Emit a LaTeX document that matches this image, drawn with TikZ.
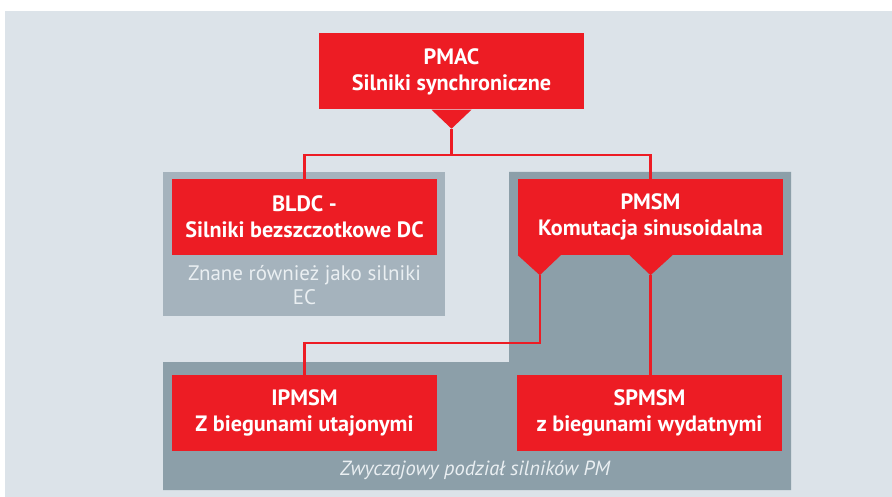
\documentclass[tikz,border=0pt]{standalone}
\usepackage{fontspec}
\setmainfont{PT Sans}
\usetikzlibrary{positioning, calc}
\definecolor{mybg}{RGB}{220,227,233}
\definecolor{myred}{RGB}{237,28,36}
\definecolor{mygrey}{RGB}{165,179,189}
\definecolor{mydark}{RGB}{140,159,169}
\definecolor{mytext}{RGB}{234,239,242}

\begin{document}
\begin{tikzpicture}[x=1pt,y=-1pt,
    redbox/.style={fill=myred, text=white, align=center, inner sep=0pt,
        minimum width=265pt, minimum height=76pt,
        font=\bfseries\fontsize{22.2}{26}\selectfont},
    link/.style={draw=myred, line width=2.2pt}]
    % Background
    \fill[white] (0,0) rectangle (892,497);
    \fill[mybg] (5,11) rectangle (892,497);
    \useasboundingbox (0,0) rectangle (892,497);

    % Grey areas behind the boxes
    \fill[mygrey] (163,172) rectangle (445,316);
    \fill[mydark] (509,172) -- (791,172) -- (791,490) -- (163,490) -- (163,362) -- (509,362) -- cycle;

    % The boxes
    \node[redbox] (pmac) at (451.5,71.5) {PMAC\\Silniki synchroniczne};
    \node[redbox] (bldc) at (304.5,217) {BLDC -\\Silniki bezszczotkowe DC};
    \node[redbox] (pmsm) at (650.5,217) {PMSM\\Komutacja sinusoidalna};
    \node[redbox] (ipmsm) at (304.5,413) {IPMSM\\Z biegunami utajonymi};
    \node[redbox] (spmsm) at (649.5,413) {SPMSM\\z biegunami wydatnymi};

    % Small pointers under the boxes
    \fill[myred] ($(pmac.south)+(-20,0)$) -- ++(40,0) -- ($(pmac.south)+(0,19)$) -- cycle;
    \coordinate (pmac tip) at ($(pmac.south)+(0,19)$);
    \fill[myred] (pmsm.south west) -- ++(43,0) -- ($(pmsm.south west)+(22,20)$) -- cycle;
    \coordinate (pmsm tip a) at ($(pmsm.south west)+(22,20)$);
    \fill[myred] ($(pmsm.south)+(-21,0)$) -- ++(43,0) -- ($(pmsm.south)+(0,20)$) -- cycle;
    \coordinate (pmsm tip b) at ($(pmsm.south)+(0,20)$);

    % Connectors
    \coordinate (branch) at ($(pmac tip)+(0,26)$);
    \draw[link] (pmac tip) -- (branch) -| (bldc.north);
    \draw[link] (branch) -| (pmsm.north);
    \draw[link] (pmsm tip a) -- ++(0,68) -| (ipmsm.north);
    \draw[link] (pmsm tip b) -- (pmsm tip b |- spmsm.north);

    % Notes
    \node[text=mytext, align=center, font=\fontsize{21}{24}\selectfont] (bldcnote) at (304.5,285) {Znane również jako silniki\\EC};
    \node[text=mytext, font=\itshape\fontsize{20.5}{24}\selectfont] (pmnote) at (475,470) {Zwyczajowy podział silników PM};
\end{tikzpicture}
\end{document}
